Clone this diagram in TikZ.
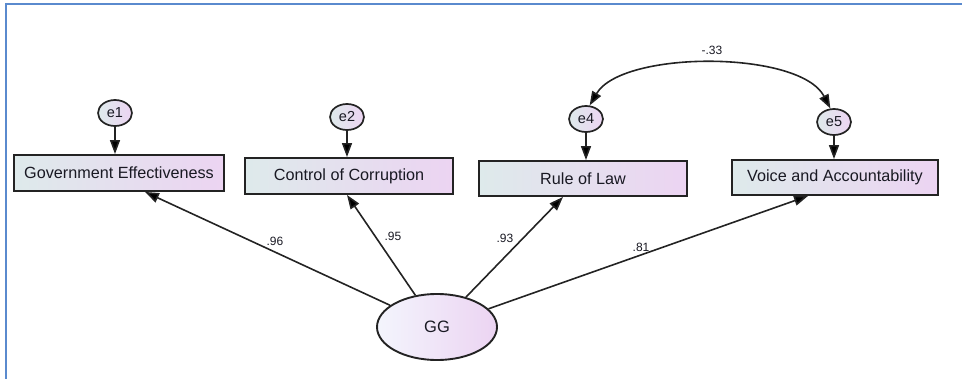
\documentclass[tikz,border=0pt]{standalone}
\usepackage{fontspec}
\setmainfont{Liberation Sans}
\usetikzlibrary{arrows.meta,shapes.geometric,calc}
\definecolor{frameblue}{RGB}{90,138,206}
\definecolor{fillL}{RGB}{222,234,235}
\definecolor{fillR}{RGB}{236,212,242}
\definecolor{edge}{RGB}{35,35,35}
\definecolor{txt}{RGB}{25,25,35}
\begin{document}
\begin{tikzpicture}[x=1pt,y=-1pt,
  obs/.style={draw=edge,line width=1.9pt,left color=fillL,right color=fillR,
    minimum height=36pt,inner sep=0pt,font=\fontsize{16.2}{18}\selectfont,text=txt},
  err/.style={ellipse,draw=edge,line width=1.7pt,left color=fillL,right color=fillR,
    minimum width=34pt,minimum height=26pt,inner sep=0pt,
    font=\fontsize{14.5}{16}\selectfont,text=txt},
  lat/.style={ellipse,draw=edge,line width=1.9pt,left color=fillL!80!blue!15,right color=fillR,
    minimum width=120pt,minimum height=66pt,inner sep=0pt,
    font=\fontsize{16.5}{18}\selectfont,text=txt},
  tip/.style={Triangle[length=14pt,width=10pt,fill=black]},
  path/.style={draw=edge,line width=1.6pt,-{Triangle[length=14pt,width=10pt,fill=black]}},
  coef/.style={font=\fontsize{12}{14}\selectfont,text=txt,inner sep=0pt}
]
\useasboundingbox (0,0) rectangle (962,378);
% outer frame
\draw[frameblue,line width=2.6pt] (6,380) -- (6,4) -- (964,4);

% observed indicators
\node[obs,minimum width=210pt] (b1) at (119,173) {Government Effectiveness};
\node[obs,minimum width=208pt] (b2) at (349,176) {Control of Corruption};
\node[obs,minimum width=208pt,minimum height=35pt] (b3) at (583,178.5) {Rule of Law};
\node[obs,minimum width=206pt,minimum height=35pt] (b4) at (835,177.5) {Voice and Accountability};

% error terms
\node[err] (e1) at (115,113) {e1};
\node[err] (e2) at (347,117) {e2};
\node[err] (e4) at (586,119) {e4};
\node[err] (e5) at (834,122) {e5};

% latent factor
\node[lat] (gg) at (437,327) {GG};

% error paths
\draw[path] (e1) -- (e1 |- b1.north);
\draw[path] (e2) -- (e2 |- b2.north);
\draw[path] (e4) -- (e4 |- b3.north);
\draw[path] (e5) -- (e5 |- b4.north);

% covariance between e4 and e5
\draw[draw=edge,line width=1.6pt,{Triangle[length=14pt,width=10pt,fill=black]}-{Triangle[length=14pt,width=10pt,fill=black]}]
  (e4.75) .. controls (622,50) and (800,50) .. (e5.105);
\node[coef] (c45) at (712,50) {-.33};

% factor loadings
\draw[path] (gg) -- ($(b1.south)+(26,0)$);
\draw[path] (gg) -- ($(b2.south)+(-2,0)$);
\draw[path] (gg) -- ($(b3.south)+(-20,0)$);
\draw[path] (gg) -- ($(b4.south)+(-27,0)$);
\node[coef] (l1) at (275,241) {.96};
\node[coef] (l2) at (393,236) {.95};
\node[coef] (l3) at (505,238) {.93};
\node[coef] (l4) at (641,247) {.81};
\end{tikzpicture}
\end{document}
